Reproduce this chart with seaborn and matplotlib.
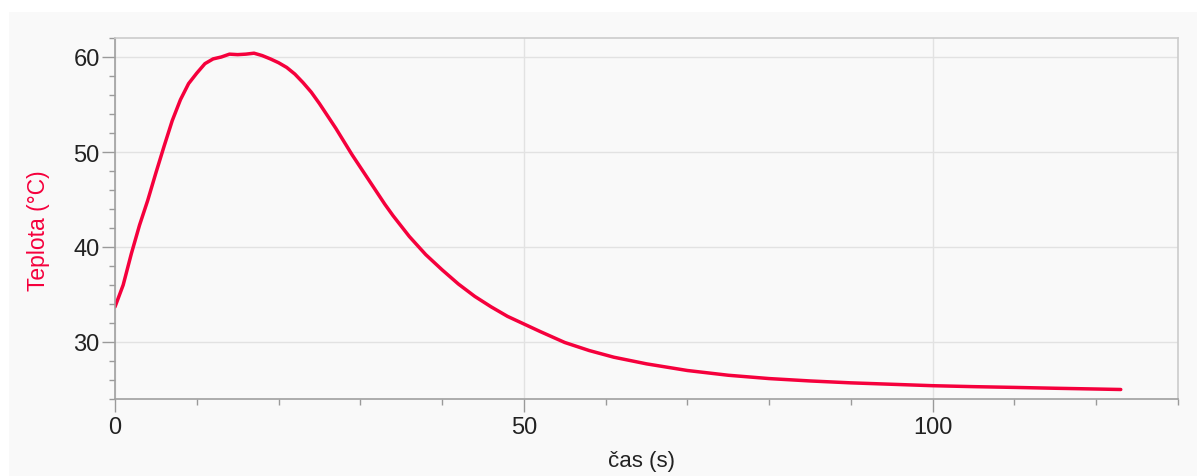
import numpy as np
import pandas as pd
import matplotlib
matplotlib.use("Agg")
import matplotlib.pyplot as plt
from matplotlib.patches import Rectangle
from matplotlib.ticker import MultipleLocator
import seaborn as sns

# ---------- DATA ----------

cas = [0, 1, 2, 3, 4, 5, 6, 7, 8, 9, 10, 11, 12, 13, 14, 15, 16, 17, 18, 19,
       20, 21, 22, 23, 24, 25, 26, 27, 28, 29, 30, 31, 32, 33, 34, 35, 36, 38,
       40, 42, 44, 46, 48, 50, 52, 55, 58, 61, 65, 70, 75, 80, 85, 90, 95,
       100, 105, 110, 115, 120, 123]
teplota = [33.7, 36.0, 39.3, 42.3, 44.9, 47.8, 50.6, 53.3, 55.5, 57.2,
           58.3, 59.3, 59.8, 60.0, 60.3, 60.25, 60.3, 60.4, 60.15, 59.8,
           59.4, 58.9, 58.2, 57.3, 56.3, 55.1, 53.8, 52.5, 51.1, 49.7,
           48.4, 47.1, 45.8, 44.5, 43.3, 42.2, 41.1, 39.2,
           37.6, 36.1, 34.8, 33.7, 32.7, 31.9, 31.1, 29.95, 29.1, 28.4,
           27.7, 27.0, 26.5, 26.15, 25.9, 25.7, 25.55, 25.4, 25.3, 25.22,
           25.13, 25.05, 25.0]

df = pd.DataFrame({"cas": cas, "teplota": teplota})

# ---------- STYLE ----------

sns.set_style("whitegrid")
plt.rcParams["font.family"] = ["Liberation Sans", "DejaVu Sans"]

PANEL = "#f9f9f9"
RED = "#f5003c"

fig = plt.figure(figsize=(12.04, 4.77), dpi=100)
fig.patch.set_facecolor("white")
fig.patches.append(Rectangle((9 / 1204, 0), (1197 - 9) / 1204, 1 - 13 / 477,
                             transform=fig.transFigure, facecolor=PANEL,
                             edgecolor="none", zorder=-10))

ax = fig.add_axes([115 / 1204, 1 - 400 / 477, (1178 - 115) / 1204, (400 - 39) / 477])
ax.set_facecolor(PANEL)

sns.lineplot(data=df, x="cas", y="teplota", color=RED, linewidth=2.5, ax=ax)

ax.set_xlim(0, 130)
ax.set_ylim(24, 62)
ax.xaxis.set_major_locator(MultipleLocator(50))
ax.xaxis.set_minor_locator(MultipleLocator(10))
ax.yaxis.set_major_locator(MultipleLocator(10))
ax.yaxis.set_minor_locator(MultipleLocator(2))

ax.grid(True, which="major", color="#e2e2e2", linewidth=1.0)
ax.grid(False, which="minor")

ax.tick_params(axis="both", which="major", length=9.5, width=1, color="#9a9a9a",
               labelsize=17, labelcolor="#222222")
ax.tick_params(axis="x", which="major", pad=3)
ax.tick_params(axis="y", which="major", pad=1.5)
ax.tick_params(axis="both", which="minor", length=4.5, width=1, color="#9a9a9a")
ax.tick_params(axis="x", which="both", bottom=True)
ax.tick_params(axis="y", which="both", left=True)

for side in ["left", "bottom"]:
    ax.spines[side].set_color("#a0a0a0")
    ax.spines[side].set_linewidth(1.2)
for side in ["top", "right"]:
    ax.spines[side].set_color("#cccccc")
    ax.spines[side].set_linewidth(1.2)

ax.set_xlabel("čas (s)", fontsize=16, color="#222222", va="center")
ax.set_ylabel("Teplota (°C)", fontsize=16.5, color=RED, va="center")
ax.xaxis.set_label_coords(0.495, -(462 - 400) / 361)
ax.yaxis.set_label_coords(-(115 - 39) / 1063, 0.47)

fig.savefig("out.png", dpi=100, facecolor=fig.get_facecolor())
